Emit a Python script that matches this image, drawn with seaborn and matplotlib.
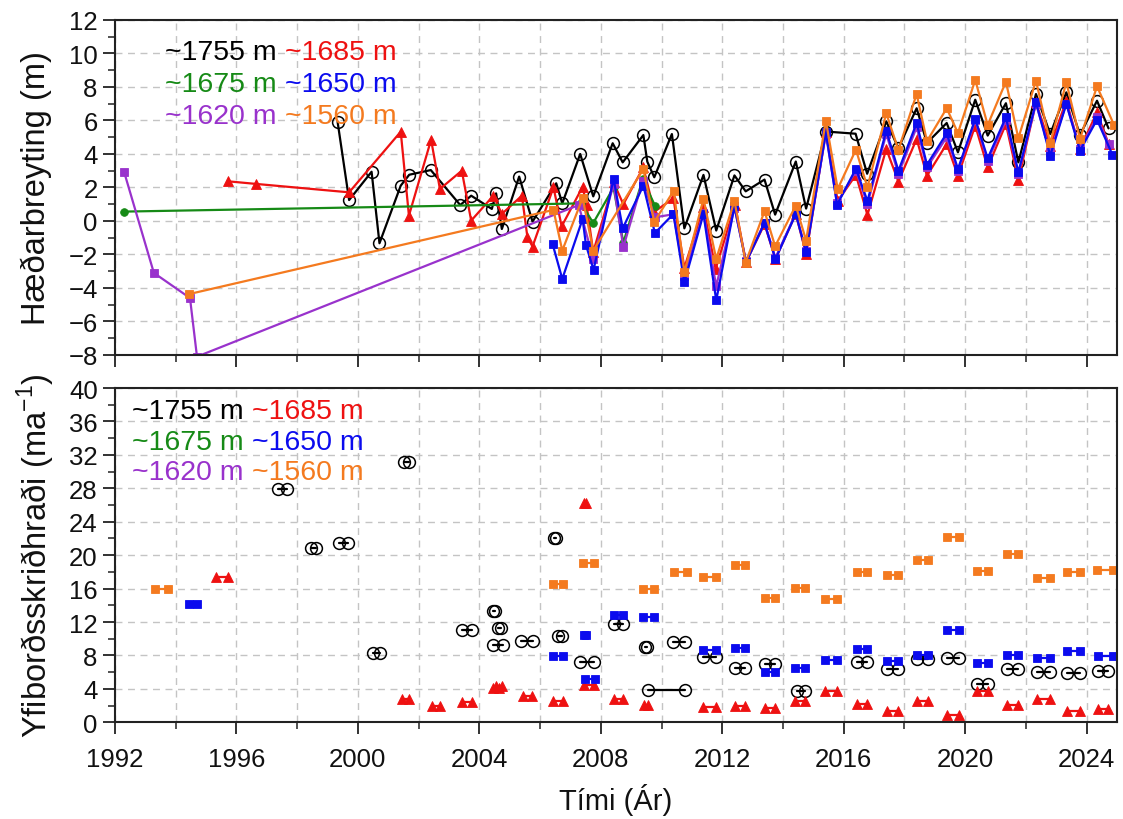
import numpy as np
import pandas as pd
import matplotlib
matplotlib.use("Agg")
import matplotlib.pyplot as plt
from matplotlib.ticker import MultipleLocator, FormatStrFormatter
import seaborn as sns

# ---------------- elevation change (m) ----------------
yr_1755 = [1999.33, 1999.71, 2000.45, 2000.71, 2001.41, 2001.69, 2002.40, 2003.37, 2003.73, 2004.41,
           2004.55, 2004.74, 2005.31, 2005.75, 2006.53, 2006.73, 2007.32, 2007.75, 2008.39, 2008.72,
           2009.40, 2009.53, 2009.76, 2010.34, 2010.75, 2011.38, 2011.80, 2012.40, 2012.77, 2013.39,
           2013.74, 2014.42, 2014.76, 2015.41, 2016.39, 2016.77, 2017.40, 2017.80, 2018.40, 2018.74,
           2019.39, 2019.76, 2020.33, 2020.74, 2021.34, 2021.75, 2022.33, 2022.80, 2023.33, 2023.78,
           2024.34, 2024.72]
dh_1755 = [5.93, 1.25, 2.94, -1.33, 2.11, 2.76, 3.04, 0.95, 1.51, 0.72,
           1.65, -0.48, 2.65, -0.04, 2.25, 1.05, 4.00, 1.47, 4.64, 3.50,
           5.13, 3.54, 2.61, 5.19, -0.44, 2.75, -0.57, 2.72, 1.77, 2.47,
           0.38, 3.55, 0.74, 5.34, 5.21, 2.82, 5.95, 4.34, 6.73, 4.66,
           5.85, 4.10, 7.24, 5.10, 7.03, 3.50, 7.58, 5.19, 7.68, 5.13,
           7.18, 5.53]

yr_1685 = [1995.71, 1996.66, 1999.71, 2001.41, 2001.68, 2002.41, 2002.70, 2003.42, 2003.73, 2004.46,
           2004.74, 2005.40, 2005.58, 2005.75, 2006.44, 2006.71, 2007.40, 2007.53, 2007.75, 2008.42,
           2008.74, 2009.40, 2009.76, 2010.39, 2010.75, 2011.38, 2011.78, 2012.42, 2012.78, 2013.39,
           2013.75, 2014.42, 2014.76, 2015.41, 2015.80, 2016.40, 2016.78, 2017.40, 2017.80, 2018.40,
           2018.74, 2019.39, 2019.76, 2020.33, 2020.74, 2021.34, 2021.75, 2022.33, 2022.80, 2023.33,
           2023.78, 2024.34, 2024.72]
dh_1685 = [2.37, 2.21, 1.71, 5.33, 0.32, 4.85, 1.91, 3.00, 0.02, 1.51,
           0.42, 1.51, -0.94, -1.53, 2.01, -0.32, 2.04, 0.95, -1.85, 2.30,
           1.00, 3.20, 0.55, 1.35, -2.80, 0.82, -2.87, 0.95, -2.47, -0.18,
           -2.27, 0.42, -1.97, 5.30, 1.20, 2.75, 0.36, 4.30, 2.35, 4.90,
           2.70, 4.60, 2.70, 5.69, 3.20, 5.79, 2.45, 7.09, 4.50, 7.18,
           4.30, 6.49, 4.60]

yr_1675 = [1992.30, 2007.35, 2007.75, 2008.42, 2008.74, 2009.38, 2009.78]
dh_1675 = [0.56, 1.05, -0.12, 2.00, -1.30, 2.50, 0.92]

yr_1650 = [2006.41, 2006.73, 2007.40, 2007.51, 2007.76, 2008.42, 2008.72, 2009.40, 2009.78, 2010.39,
           2010.75, 2011.38, 2011.80, 2012.40, 2012.78, 2013.39, 2013.75, 2014.42, 2014.76, 2015.41,
           2015.78, 2016.40, 2016.78, 2017.40, 2017.80, 2018.40, 2018.74, 2019.39, 2019.76, 2020.33,
           2020.74, 2021.34, 2021.75, 2022.33, 2022.80, 2023.33, 2023.78, 2024.34, 2024.85]
dh_1650 = [-1.37, -3.46, 0.12, -1.43, -2.92, 2.51, -0.44, 2.11, -0.72, 0.42,
           -3.66, 0.42, -4.74, 0.87, -2.47, -0.12, -2.28, 0.42, -1.87, 5.30,
           0.97, 3.12, 1.19, 5.39, 3.00, 5.85, 3.36, 5.23, 3.10, 6.09,
           3.74, 6.19, 2.90, 7.09, 3.90, 6.99, 4.20, 6.05, 3.94]

yr_1620 = [1992.30, 1993.28, 1994.47, 1994.70, 2007.27, 2007.75, 2008.42, 2008.74, 2009.38, 2009.78,
           2010.39, 2010.75, 2011.38, 2011.80, 2012.40, 2012.78, 2013.39, 2013.75, 2014.42, 2014.76,
           2015.41, 2015.78, 2016.40, 2016.78, 2017.40, 2017.80, 2018.40, 2018.74, 2019.39, 2019.76,
           2020.33, 2020.74, 2021.34, 2021.75, 2022.33, 2022.80, 2023.33, 2023.78, 2024.34, 2024.72]
dh_1620 = [2.93, -3.10, -4.60, -8.10, 0.95, -2.27, 2.20, -1.57, 2.40, 0.22,
           0.40, -3.30, 0.50, -3.90, 0.80, -2.40, -0.10, -2.20, 0.45, -1.80,
           5.20, 1.05, 3.00, 1.00, 5.20, 2.80, 5.60, 3.20, 5.00, 3.00,
           6.00, 3.60, 6.00, 2.80, 7.00, 4.10, 7.00, 4.30, 6.20, 4.60]

yr_1560 = [1994.45, 2006.44, 2006.73, 2007.40, 2007.75, 2009.40, 2009.76, 2010.40, 2010.75, 2011.38,
           2011.80, 2012.40, 2012.77, 2013.39, 2013.74, 2014.42, 2014.76, 2015.41, 2015.80, 2016.40,
           2016.78, 2017.40, 2017.80, 2018.40, 2018.74, 2019.39, 2019.76, 2020.33, 2020.74, 2021.34,
           2021.75, 2022.33, 2022.80, 2023.33, 2023.78, 2024.34, 2024.90]
dh_1560 = [-4.36, 0.66, -1.77, 1.37, -1.77, 3.10, -0.06, 1.81, -3.06, 1.31,
           -2.27, 1.21, -2.48, 0.58, -1.51, 0.92, -1.17, 5.99, 1.91, 4.26,
           2.01, 6.43, 4.24, 7.58, 4.76, 6.73, 5.25, 8.42, 5.73, 8.32,
           4.94, 8.38, 4.66, 8.28, 4.90, 8.04, 5.73]

# ---------------- surface velocity (m/a), interval start, end, value ----------------
v1755_start = [1997.36, 1998.47, 1999.39, 2000.51, 2001.53, 2003.42, 2004.44, 2004.60, 2004.44, 2005.37,
               2006.47, 2006.60, 2007.32, 2008.42, 2009.45, 2009.54, 2010.39, 2011.38, 2012.42, 2013.41,
               2014.45, 2016.43, 2017.43, 2018.40, 2019.39, 2020.38, 2021.37, 2022.36, 2023.35, 2024.37]
v1755_end = [1997.65, 1998.62, 1999.68, 2000.73, 2001.69, 2003.75, 2004.52, 2004.72, 2004.77, 2005.76,
             2006.53, 2006.72, 2007.77, 2008.72, 2009.53, 2010.78, 2010.78, 2011.80, 2012.75, 2013.74,
             2014.73, 2016.76, 2017.80, 2018.79, 2019.78, 2020.76, 2021.75, 2022.80, 2023.78, 2024.70]
v1755 = [27.9, 20.8, 21.5, 8.3, 31.1, 11.0, 13.3, 11.3, 9.3, 9.7,
         22.0, 10.3, 7.2, 11.8, 9.0, 3.9, 9.6, 7.8, 6.5, 7.0,
         3.8, 7.2, 6.4, 7.6, 7.7, 4.6, 6.4, 6.0, 5.9, 6.2]

v1685_start = [1995.33, 2001.44, 2002.43, 2003.42, 2004.46, 2004.55, 2005.45, 2006.44, 2007.46, 2007.45,
               2008.42, 2009.42, 2011.38, 2012.42, 2013.41, 2014.40, 2015.39, 2016.43, 2017.41, 2018.40,
               2019.39, 2020.38, 2021.37, 2022.36, 2023.35, 2024.37]
v1685_end = [1995.73, 2001.68, 2002.70, 2003.75, 2004.65, 2004.74, 2005.72, 2006.75, 2007.50, 2007.77,
             2008.72, 2009.56, 2011.80, 2012.75, 2013.74, 2014.73, 2015.78, 2016.76, 2017.80, 2018.79,
             2019.78, 2020.76, 2021.75, 2022.80, 2023.78, 2024.70]
v1685 = [17.4, 2.8, 1.9, 2.4, 4.1, 4.4, 3.1, 2.5, 26.2, 4.5,
         2.8, 2.1, 1.8, 1.9, 1.7, 2.5, 3.7, 2.2, 1.3, 2.6,
         0.9, 3.8, 2.1, 2.8, 1.4, 1.6]

v1650_start = [1994.45, 2006.44, 2007.45, 2007.48, 2008.42, 2009.40, 2011.38, 2012.42, 2013.41, 2014.40,
               2015.39, 2016.43, 2017.41, 2018.40, 2019.39, 2020.38, 2021.37, 2022.36, 2023.35, 2024.37]
v1650_end = [1994.71, 2006.75, 2007.50, 2007.80, 2008.72, 2009.76, 2011.80, 2012.75, 2013.74, 2014.73,
             2015.78, 2016.76, 2017.80, 2018.79, 2019.78, 2020.76, 2021.75, 2022.80, 2023.78, 2024.88]
v1650 = [14.1, 7.9, 10.5, 5.2, 12.9, 12.6, 8.6, 8.9, 6.0, 6.5,
         7.4, 8.8, 7.3, 8.1, 11.0, 7.1, 8.0, 7.7, 8.5, 7.9]

v1560_start = [1993.32, 2006.44, 2007.40, 2009.40, 2010.42, 2011.38, 2012.42, 2013.41, 2014.40, 2015.39,
               2016.43, 2017.41, 2018.40, 2019.39, 2020.38, 2021.37, 2022.36, 2023.35, 2024.34]
v1560_end = [1993.76, 2006.75, 2007.77, 2009.76, 2010.83, 2011.80, 2012.75, 2013.74, 2014.73, 2015.78,
             2016.76, 2017.80, 2018.79, 2019.78, 2020.76, 2021.75, 2022.80, 2023.78, 2024.88]
v1560 = [16.0, 16.6, 19.1, 15.9, 18.0, 17.4, 18.8, 14.9, 16.1, 14.7,
         18.0, 17.6, 19.4, 22.2, 18.1, 20.1, 17.3, 18.0, 18.2]

# ---------------- labels ----------------
site_labels = ["~1755 m", "~1685 m", "~1675 m", "~1650 m", "~1620 m", "~1560 m"]
top_ylabel = "Hæðarbreyting (m)"
bottom_ylabel = r"Yfiborðsskriðhraði (ma$^{\mathregular{-1}}$)"
xlabel = "Tími (Ár)"

C_BLACK = "#000000"
C_RED = "#ee1111"
C_GREEN = "#168a16"
C_BLUE = "#0b0bee"
C_PURPLE = "#9932cc"
C_ORANGE = "#f47a1f"
label_colors = [C_BLACK, C_RED, C_GREEN, C_BLUE, C_PURPLE, C_ORANGE]

sns.set_theme(style="ticks")
plt.rcParams["font.family"] = ["Liberation Sans", "DejaVu Sans"]
plt.rcParams["mathtext.fontset"] = "custom"
plt.rcParams["mathtext.rm"] = "Liberation Sans"

fig = plt.figure(figsize=(11.23, 8.2), dpi=100)
ax1 = fig.add_axes([0.1024, 0.5659, 0.8923, 0.4085])
ax2 = fig.add_axes([0.1024, 0.1179, 0.8923, 0.4077])

LW = 1.6


def profile(ax, x, y, color, marker, ms, open_marker=False):
    sns.lineplot(x=x, y=y, ax=ax, color=color, marker=marker, markersize=ms,
                 markerfacecolor="none" if open_marker else color,
                 markeredgecolor=color, markeredgewidth=1.1 if open_marker else 0.6,
                 linewidth=LW, sort=False, estimator=None, legend=False)


profile(ax1, yr_1755, dh_1755, C_BLACK, "o", 8.5, open_marker=True)
profile(ax1, yr_1685, dh_1685, C_RED, "^", 7.0)
profile(ax1, yr_1675, dh_1675, C_GREEN, "o", 5.5)
profile(ax1, yr_1620, dh_1620, C_PURPLE, "s", 5.8)
profile(ax1, yr_1650, dh_1650, C_BLUE, "s", 5.8)
profile(ax1, yr_1560, dh_1560, C_ORANGE, "s", 5.8)


def intervals(ax, t0, t1, v, color, marker, ms, open_marker=False):
    n = len(v)
    df = pd.DataFrame({
        "year": list(t0) + list(t1),
        "value": list(v) + list(v),
        "seg": list(range(n)) + list(range(n)),
    })
    sns.lineplot(data=df, x="year", y="value", units="seg", estimator=None, ax=ax,
                 color=color, marker=marker, markersize=ms,
                 markerfacecolor="none" if open_marker else color,
                 markeredgecolor=color, markeredgewidth=1.1 if open_marker else 0.6,
                 linewidth=LW, legend=False)


intervals(ax2, v1755_start, v1755_end, v1755, C_BLACK, "o", 8.5, open_marker=True)
intervals(ax2, v1685_start, v1685_end, v1685, C_RED, "^", 7.0)
intervals(ax2, v1650_start, v1650_end, v1650, C_BLUE, "s", 6.0)
intervals(ax2, v1560_start, v1560_end, v1560, C_ORANGE, "s", 6.0)

grid_kw = dict(color="#c4c4c4", linestyle=(0, (5, 4)), linewidth=1.0)
for ax in (ax1, ax2):
    ax.set_xlim(1992, 2025)
    ax.xaxis.set_major_locator(MultipleLocator(4))
    ax.xaxis.set_minor_locator(MultipleLocator(2))
    ax.xaxis.set_major_formatter(FormatStrFormatter("%d"))
    ax.grid(which="major", axis="both", **grid_kw)
    ax.grid(which="minor", axis="x", **grid_kw)
    ax.set_axisbelow(True)
    for s in ax.spines.values():
        s.set_visible(True)
        s.set_color("#222222")
        s.set_linewidth(1.5)
    ax.tick_params(which="major", direction="out", length=8.5, width=1.3, labelsize=18.5,
                   color="#222222", labelcolor="#111111", pad=4)
    ax.tick_params(which="minor", direction="out", length=5, width=1.1, color="#222222")

ax1.set_ylim(-8, 12)
ax1.yaxis.set_major_locator(MultipleLocator(2))
ax1.yaxis.set_minor_locator(MultipleLocator(1))
ax1.tick_params(axis="x", labelbottom=False)
ax1.set_xlabel("")

ax2.set_ylim(0, 40)
ax2.yaxis.set_major_locator(MultipleLocator(4))
ax2.yaxis.set_minor_locator(MultipleLocator(2))
ax2.tick_params(axis="x", which="major", pad=9)

ax1.set_ylabel(top_ylabel, fontsize=23.5, color="#111111")
ax2.set_ylabel(bottom_ylabel, fontsize=23.5, color="#111111")
for ax in (ax1, ax2):
    ax.yaxis.set_label_coords(-0.079, 0.5)
    ax.yaxis.label.set_va("center")
ax2.set_xlabel(xlabel, fontsize=21, color="#111111")
ax2.xaxis.set_label_coords(0.5, -0.228)
ax2.xaxis.label.set_va("center")


def site_key(ax, x_left, x_right, rows):
    for r, y in enumerate(rows):
        for c, xx in enumerate((x_left, x_right)):
            i = 2 * r + c
            ax.text(xx, y, site_labels[i], color=label_colors[i], fontsize=20.5,
                    transform=ax.transAxes, ha="left", va="center")


site_key(ax1, 0.050, 0.170, [0.904, 0.809, 0.713])
site_key(ax2, 0.017, 0.137, [0.932, 0.839, 0.748])

fig.savefig("out.png", dpi=100, facecolor="white")
